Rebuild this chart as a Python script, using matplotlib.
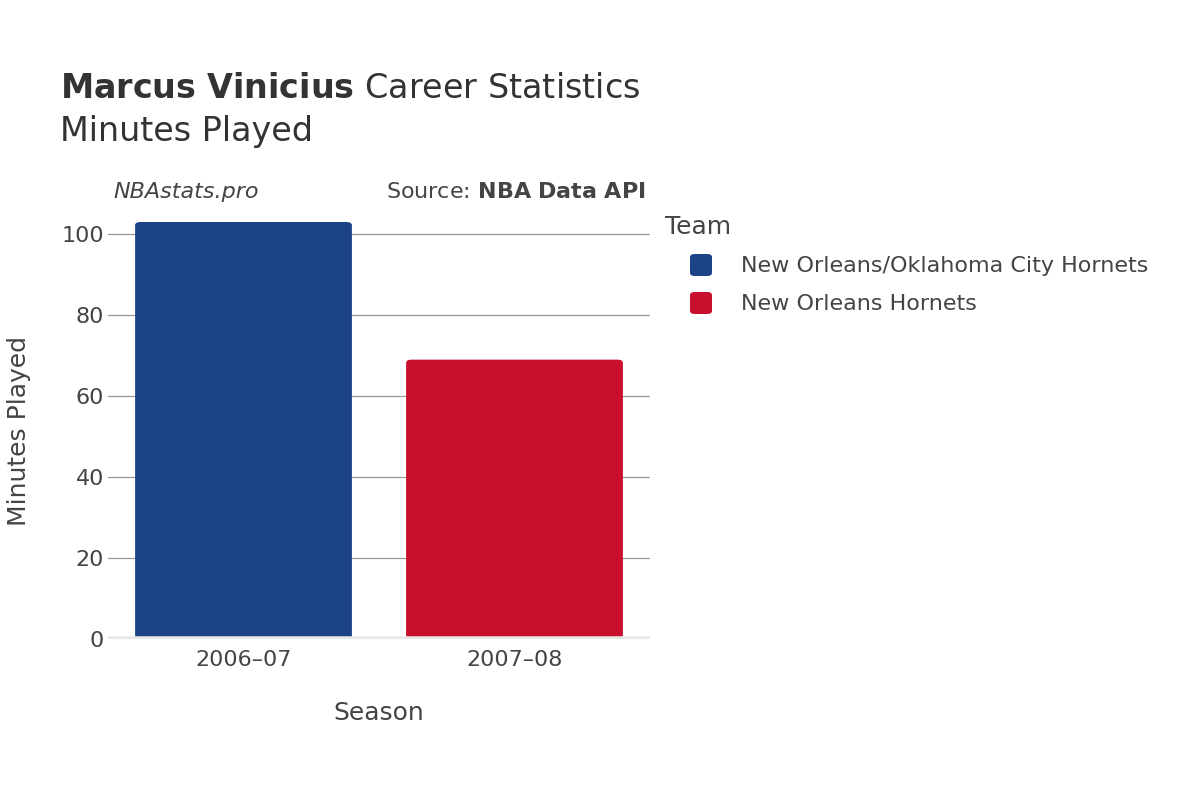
import matplotlib.pyplot as plt
from matplotlib.patches import FancyBboxPatch

seasons = ["2006\u201307", "2007\u201308"]
minutes = [103, 69]
teams = ["New Orleans/Oklahoma City Hornets", "New Orleans Hornets"]
colors = ["#1c4287", "#c8102e"]

plt.rcParams["font.family"] = "DejaVu Sans"
fig = plt.figure(figsize=(12, 8), dpi=100)
ax = fig.add_axes([108 / 1200, 1 - 639 / 800, 542 / 1200, 417 / 800])

x = range(len(seasons))
for i, (s, m, c) in enumerate(zip(seasons, minutes, colors)):
    p = FancyBboxPatch((i - 0.4, 0), 0.8, m, boxstyle="round,pad=0,rounding_size=0.02",
                       mutation_aspect=40, facecolor=c, edgecolor="none", zorder=3)
    ax.add_patch(p)

ax.set_xlim(-0.5, 1.5)
ax.set_ylim(0, 103)
ax.set_xticks(list(x))
ax.set_xticklabels(seasons)
ax.set_yticks([0, 20, 40, 60, 80, 100])
ax.tick_params(axis="both", labelsize=16, colors="#444444", length=0, pad=8)
ax.tick_params(axis="y", pad=3)
ax.grid(axis="y", color="#999999", linewidth=0.9, zorder=0)
ax.axhline(0, color="#e8e8e8", linewidth=4, zorder=4)
for sp in ax.spines.values():
    sp.set_visible(False)
ax.set_xlabel("Season", fontsize=18, color="#444444", labelpad=22)
ax.set_ylabel("Minutes Played", fontsize=18, color="#444444", labelpad=22)

fig.text(60 / 1200, 1 - 88 / 800, r"$\bf{Marcus\ Vinicius}$ Career Statistics",
         fontsize=24, color="#333333", va="center")
fig.text(60 / 1200, 1 - 132 / 800, "Minutes Played", fontsize=24, color="#333333", va="center")
fig.text(113 / 1200, 1 - 192 / 800, "NBAstats.pro", fontsize=16, style="italic",
         color="#444444", va="center")
fig.text(646 / 1200, 1 - 192 / 800, r"Source: $\bf{NBA\ Data\ API}$", fontsize=16,
         color="#444444", va="center", ha="right")

fig.text(665 / 1200, 1 - 227 / 800, "Team", fontsize=18, color="#444444", va="center")
for i, (t, c) in enumerate(zip(teams, colors)):
    yc = 266 + i * 38
    fig.patches.append(FancyBboxPatch((690 / 1200, 1 - (yc + 10) / 800), 22 / 1200, 22 / 800,
                                      boxstyle="round,pad=0,rounding_size=0.004",
                                      transform=fig.transFigure, facecolor=c, edgecolor="none"))
    fig.text(741 / 1200, 1 - yc / 800, t, fontsize=16, color="#444444", va="center")

fig.savefig("out.png")
